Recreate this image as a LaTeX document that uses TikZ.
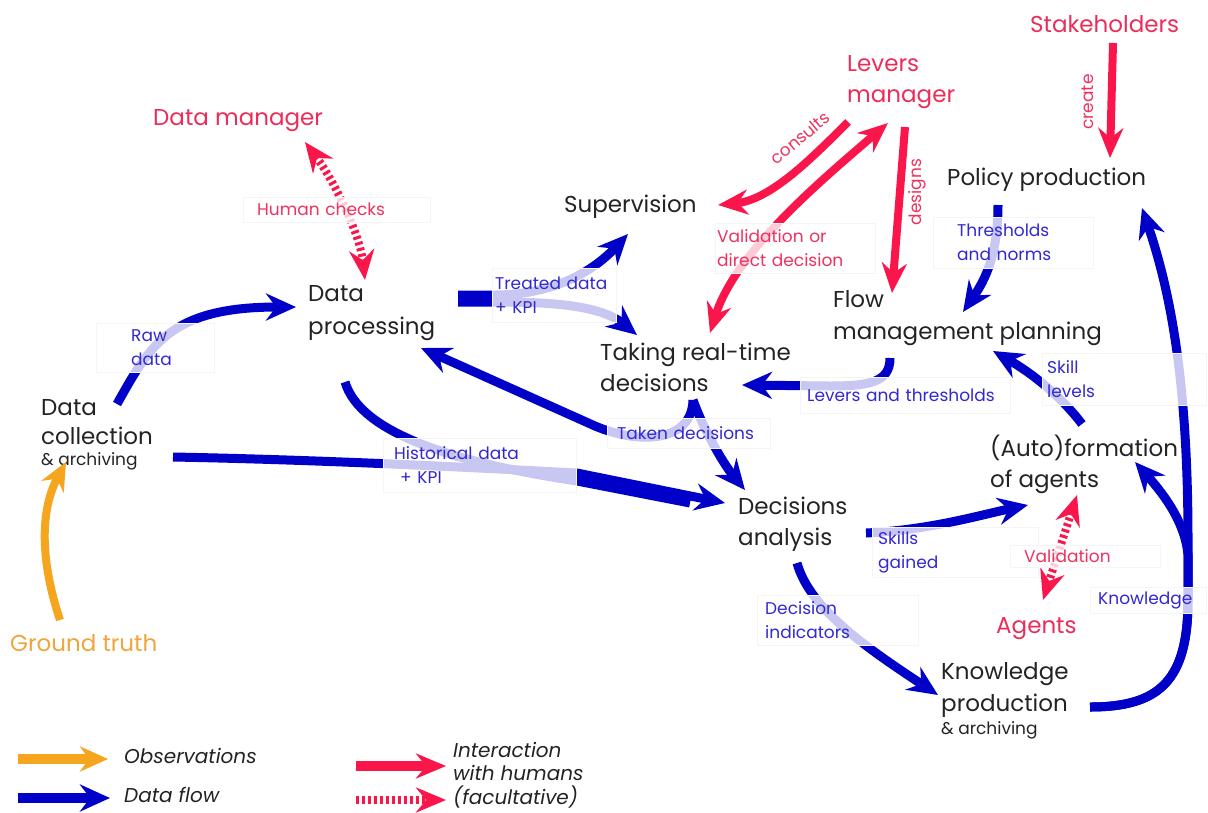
\documentclass[tikz,border=0pt]{standalone}
\usepackage{fontspec}
\setmainfont{Poppins}
\usepackage{xcolor}
\usepackage{tikz}
\usetikzlibrary{arrows.meta}
\definecolor{flowblue}{RGB}{0,0,200}
\definecolor{humred}{RGB}{250,22,75}
\definecolor{obsorange}{RGB}{245,165,30}
\definecolor{ink}{RGB}{35,35,35}
\definecolor{lblue}{RGB}{50,40,210}
\definecolor{lred}{RGB}{238,50,95}
\definecolor{actred}{RGB}{235,45,90}
\definecolor{gtorange}{RGB}{240,165,60}
\newcommand{\archnote}{{\fontsize{17}{21}\selectfont\&~archiving}}

\begin{document}
\begin{tikzpicture}[x=1pt, y=-1pt,
  box/.style={font=\fontsize{23}{31}\selectfont, text=ink, align=left, inner sep=0pt, anchor=north west},
  actor/.style={box, text=actred},
  lbl/.style={font=\fontsize{17}{24}\selectfont, align=left, anchor=north west, inner ysep=0pt,
    fill=white, fill opacity=0.78, text opacity=1, draw=black!4},
  flowlbl/.style={lbl, text=lblue},
  humlbl/.style={lbl, text=lred},
  humtag/.style={font=\fontsize{17}{24}\selectfont, text=lred, inner sep=0pt},
  legtxt/.style={font=\fontsize{20}{23}\selectfont\itshape, text=ink, align=left, inner sep=0pt, anchor=north west},
  dflow/.style={draw=flowblue, line width=9pt, -{Stealth[length=30pt,width=27pt,inset=10pt]}},
  hum/.style={draw=humred, line width=8pt, -{Stealth[length=30pt,width=25pt,inset=10pt]}},
  humboth/.style={hum, {Stealth[length=30pt,width=25pt,inset=10pt]}-{Stealth[length=30pt,width=25pt,inset=10pt]}},
  opt/.style={dash pattern=on 3pt off 3pt},
  obs/.style={draw=obsorange, line width=8pt, -{Stealth[length=28pt,width=25pt,inset=9pt]}},
]
\useasboundingbox (0,0) rectangle (1208,812);

\node[actor] (dman) at (153,109) {Data manager};
\node[actor] (levm) at (847,55) {Levers\\manager};
\node[actor] (stake) at (1030,15) {Stakeholders};
\node[box] (superv) at (564,195) {Supervision};
\node[box] (policy) at (947,168) {Policy production};
\node[box, font=\fontsize{23}{33}\selectfont] (dproc) at (308,285) {Data\\processing};
\node[box] (taking) at (600,343) {Taking real-time\\decisions};
\node[box, font=\fontsize{23}{32}\selectfont] (fplan) at (833,290) {Flow\\management planning};
\node[box, font=\fontsize{23}{29}\selectfont] (dcol) at (41,399) {Data\\collection\\[-8pt]\archnote};
\node[box] (danal) at (738,497) {Decisions\\analysis};
\node[box] (autof) at (990,435) {(Auto)formation\\of agents};
\node[actor] (agents) at (996,617) {Agents};
\node[box, font=\fontsize{23}{32}\selectfont] (kprod) at (941,662) {Knowledge\\production\\[-9pt]\archnote};
\node[box, text=gtorange] (gtruth) at (10,634) {Ground truth};

\draw[obs] ([shift={(50,-14)}]gtruth.north west) .. controls +(-20,-60) and +(-26,48) .. ([shift={(25,63)}]dcol.north west);

\draw[dflow] ([shift={(76,5)}]dcol.north west) .. controls +(33,-59) and +(-126,0) .. ([shift={(-12,22)}]dproc.north west);
\draw[dflow] ([shift={(150,10)}]dproc.north west) -- ++(37,0) .. controls +(45,0) and +(-43,46) .. ([shift={(64,39)}]superv.north west);
\draw[dflow] ([shift={(150,17)}]dproc.north west) -- ++(37,0) .. controls +(55,0) and +(-37,-30) .. ([shift={(37,-8)}]taking.north west);
\draw[dflow] ([shift={(132,58)}]dcol.north west) .. controls +(157,3) and +(-97,-5) .. ++(404,16) -- ([shift={(-13,6)}]danal.north west);
\draw[dflow, -] ([shift={(37,97)}]dproc.north west) .. controls +(15,50) and +(-127,-19) .. ++(232,99) -- ([shift={(-48,6)}]danal.north west);
\draw[dflow] ([shift={(93,57)}]taking.north west) .. controls +(-1,42) and +(45,19) .. ++(-98,26) -- ([shift={(113,63)}]dproc.north west);
\draw[dflow] ([shift={(93,57)}]taking.north west) .. controls +(10,28) and +(-23,-28) .. ([shift={(7,-7)}]danal.north west);
\draw[dflow] ([shift={(57,68)}]fplan.north west) .. controls +(0,24) and +(40,0) .. ++(-60,28) -- ([shift={(142,42)}]taking.north west);
\draw[dflow] ([shift={(51,37)}]policy.north west) .. controls +(0,50) and +(22,-32) .. ([shift={(130,22)}]fplan.north west);
\draw[dflow] ([shift={(92,-11)}]autof.north west) .. controls +(-22,-29) and +(37,21) .. ([shift={(160,61)}]fplan.north west);
\draw[dflow] ([shift={(128,36)}]danal.north west) .. controls +(64,-3) and +(-48,10) .. ([shift={(38,70)}]autof.north west);
\draw[dflow] ([shift={(59,66)}]danal.north west) .. controls +(13,47) and +(-68,-45) .. ([shift={(-3,33)}]kprod.north west);
\draw[dflow] ([shift={(149,45)}]kprod.north west) .. controls +(70,0) and +(0,80) .. ++(98,-107) -- ++(0,-60) .. controls +(0,-160) and +(28,82) .. ([shift={(195,40)}]policy.north west);
\draw[dflow] ([shift={(149,45)}]kprod.north west) .. controls +(70,0) and +(0,80) .. ++(98,-107) -- ++(0,-45) .. controls +(-3,-35) and +(25,28) .. ([shift={(145,27)}]autof.north west);

\draw[hum] ([shift={(83,28)}]stake.north west) -- ([shift={(163,-10)}]policy.north west);
\draw[hum] ([shift={(1,67)}]levm.north west) .. controls +(-38,38) and +(52,-5) .. ([shift={(154,10)}]superv.north west);
\draw[humboth] ([shift={(110,-10)}]taking.north west) .. controls +(25,-80) and +(-70,60) .. ([shift={(41,68)}]levm.north west);
\draw[hum] ([shift={(58,72)}]levm.north west) -- ([shift={(59,3)}]fplan.north west);
\draw[humboth, opt] ([shift={(152,33)}]dman.north west) .. controls +(30,40) and +(-5,-45) .. ([shift={(57,-5)}]dproc.north west);
\draw[humboth, opt] ([shift={(87,60)}]autof.north west) -- ([shift={(47,-17)}]agents.north west);

\node[flowlbl, text width=48pt, inner xsep=35pt, minimum height=49pt] (lraw) at (96,323) {Raw\\data};
\node[flowlbl, text width=118pt, inner xsep=3pt, minimum height=54pt] (ltreat) at (492,268) {Treated data\\+ KPI};
\node[flowlbl, text width=171pt, inner xsep=11pt, minimum height=54pt] (lhist) at (383,438) {Historical data\\\hspace*{6pt}+ KPI};
\node[flowlbl, text width=143pt, inner xsep=10pt, minimum height=30pt] (ltaken) at (607,418) {Taken decisions};
\node[flowlbl, text width=196pt, inner xsep=7pt, minimum height=36pt] (llev) at (800,377) {Levers and thresholds};
\node[flowlbl, text width=112pt, inner xsep=24pt, minimum height=51pt] (lthr) at (933,217) {Thresholds\\and norms};
\node[flowlbl, text width=154pt, inner xsep=5pt, minimum height=52pt] (lskill) at (1042,353) {Skill\\levels};
\node[flowlbl, text width=154pt, inner xsep=6pt, minimum height=50pt] (lgain) at (872,527) {Skills\\gained};
\node[flowlbl, text width=100pt, inner xsep=8pt, minimum height=26pt] (lknow) at (1090,587) {Knowledge};
\node[flowlbl, text width=145pt, inner xsep=8pt, minimum height=50pt] (lind) at (757,595) {Decision\\indicators};
\node[humlbl, text width=159pt, inner xsep=14pt, minimum height=25pt] (lhc) at (243,197) {Human checks};
\node[humlbl, text width=156pt, inner xsep=2pt, minimum height=50pt] (lval) at (715,223) {Validation or\\direct decision};
\node[humlbl, text width=122pt, inner xsep=14pt, minimum height=22pt] (lvag) at (1010,545) {Validation};
\node[humtag, rotate=40] (lcons) at (800,138) {consults};
\node[humtag, rotate=90] (ldes) at (917,192) {designs};
\node[humtag, rotate=90] (lcre) at (1088,102) {create};

\node[legtxt] (lgobs) at (124,748) {Observations};
\node[legtxt] (lgflow) at (124,787) {Data flow};
\node[legtxt] (lghum) at (453,742) {Interaction\\with humans};
\node[legtxt] (lgopt) at (453,786) {(facultative)};
\coordinate (lg1) at (18,759);
\coordinate (lg2) at (18,798);
\coordinate (lg3) at (356,766);
\coordinate (lg4) at (356,800);
\draw[obs, line width=10pt, shorten >=16pt] (lg1) -- (lg1 -| lgobs.west);
\draw[dflow, line width=10pt, shorten >=14pt] (lg2) -- (lg2 -| lgflow.west);
\draw[hum, line width=10pt, shorten >=7pt] (lg3) -- (lg3 -| lghum.west);
\draw[hum, opt, shorten >=7pt] (lg4) -- (lg4 -| lgopt.west);
\end{tikzpicture}
\end{document}
